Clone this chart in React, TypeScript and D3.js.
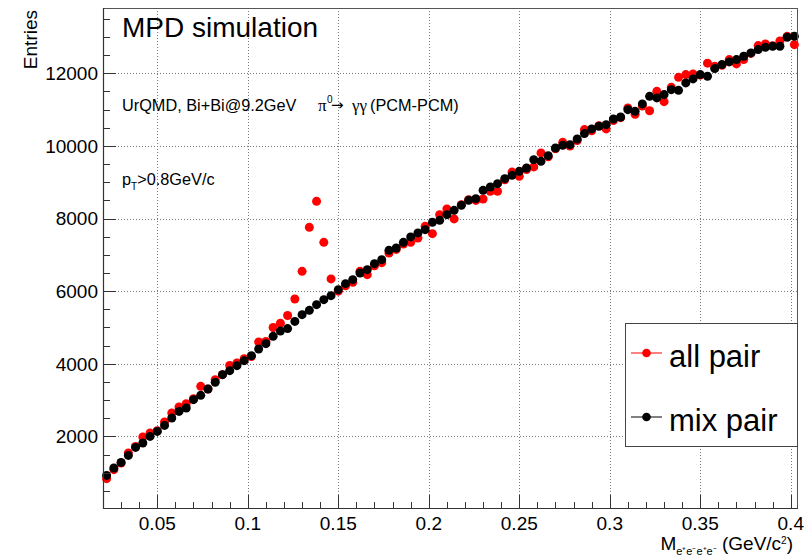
import React from "react";
import * as d3 from "d3";

const W = 808;
const H = 558;

// bin centres: 0.022 .. 0.402, width 0.004
const binStart = 0.02;
const binWidth = 0.004;

const allPair = [
  835, 1083, 1267, 1543, 1725, 1984, 2094, 2157, 2397, 2645,
  2810, 2901, 3039, 3378, 3306, 3562, 3700, 3956, 4022, 4140,
  4200, 4600, 4617, 5000, 5115, 5330, 5785, 6546, 7758, 8474,
  7345, 6337, 6000, 6150, 6243, 6546, 6455, 6700, 6786, 7053,
  7150, 7300, 7345, 7466, 7786, 7585, 8108, 8265, 7990, 8383,
  8520, 8500, 8540, 8750, 8750, 9070, 9280, 9163, 9350, 9422,
  9808, 9700, 9920, 10100, 10000, 10150, 10450, 10420, 10560, 10469,
  10700, 10780, 11047, 10870, 11100, 10970, 11505, 11220, 11615, 11890,
  11965, 11984, 11950, 12280, 12194, 12220, 12378, 12260, 12380, 12550,
  12765, 12811, 12760, 12890, 13020, 12791,
];

const mixPair = [
  926, 1130, 1284, 1477, 1697, 1818, 2000, 2138, 2303, 2507,
  2689, 2782, 3011, 3130, 3306, 3488, 3700, 3810, 3948, 4086,
  4223, 4407, 4554, 4755, 4900, 4970, 5168, 5353, 5472, 5628,
  5766, 5876, 6042, 6207, 6317, 6502, 6593, 6758, 6868, 7124,
  7190, 7345, 7494, 7604, 7695, 7896, 7951, 8108, 8226, 8364,
  8502, 8549, 8777, 8871, 8962, 9100, 9190, 9301, 9394, 9623,
  9577, 9733, 9945, 10017, 10036, 10193, 10340, 10469, 10541, 10587,
  10744, 10799, 11000, 10954, 11158, 11367, 11323, 11414, 11550, 11532,
  11736, 11846, 11965, 11919, 12131, 12241, 12315, 12378, 12470, 12563,
  12654, 12717, 12745, 12745, 12993, 13020,
];

const xTicksMajor = [0.05, 0.1, 0.15, 0.2, 0.25, 0.3, 0.35, 0.4];
const xTickLabels = ["0.05", "0.1", "0.15", "0.2", "0.25", "0.3", "0.35", "0.4"];
const yTicksMajor = [2000, 4000, 6000, 8000, 10000, 12000];
const yTickLabels = ["2000", "4000", "6000", "8000", "10000", "12000"];

const legendLabels = ["all pair", "mix pair"];
const seriesColors = ["#ff0000", "#000000"];

const FONT = "'Liberation Sans', Arial, Helvetica, sans-serif";
const SERIF = "'Liberation Serif', 'DejaVu Serif', serif";

export default function App() {
  const left = 103, right = 798, top = 8, bottom = 509;
  const x = d3.scaleLinear().domain([0.02, 0.404]).range([left, right]);
  const y = d3.scaleLinear().domain([0, 13800]).range([bottom, top]);

  const xMinor = d3.range(0.02, 0.4041, 0.01).map((v) => Math.round(v * 1000) / 1000);
  const yMinor = d3.range(500, 13801, 500);

  const centers = allPair.map((_, i) => binStart + binWidth * (i + 0.5));
  const series = [allPair, mixPair];

  return (
    <svg
      width={W}
      height={H}
      viewBox={`0 0 ${W} ${H}`}
      style={{ position: "absolute", left: 0, top: 0, background: "#fff" }}
      fontFamily={FONT}
    >
      <rect x={0} y={0} width={W} height={H} fill="#fff" />
      {/* grid */}
      <g stroke="#777" strokeWidth={1} strokeDasharray="1,2">
        {xTicksMajor.map((t) => (
          <line key={"gx" + t} x1={Math.round(x(t)) + 0.5} x2={Math.round(x(t)) + 0.5} y1={top} y2={bottom} />
        ))}
        {yTicksMajor.map((t) => (
          <line key={"gy" + t} x1={left} x2={right} y1={Math.round(y(t)) + 0.5} y2={Math.round(y(t)) + 0.5} />
        ))}
      </g>

      {/* data */}
      {series.map((s, si) => (
        <g key={"s" + si} fill={seriesColors[si]}>
          {s.map((v, i) => (
            <circle key={i} cx={x(centers[i])} cy={y(v)} r={4.5} />
          ))}
        </g>
      ))}

      {/* frame */}
      <rect x={left + 0.5} y={top + 0.5} width={right - left - 1} height={bottom - top - 1} fill="none" stroke="#555" strokeWidth={1} />
      <line x1={left + 0.5} x2={left + 0.5} y1={top} y2={bottom} stroke="#333" strokeWidth={1.2} />
      <line x1={left} x2={right} y1={bottom - 0.5} y2={bottom - 0.5} stroke="#333" strokeWidth={1.2} />

      {/* x ticks */}
      <g stroke="#333" strokeWidth={1}>
        {xMinor.map((t) => (
          <line key={"xm" + t} x1={Math.round(x(t)) + 0.5} x2={Math.round(x(t)) + 0.5} y1={bottom} y2={bottom - 7} />
        ))}
        {xTicksMajor.map((t) => (
          <line key={"xM" + t} x1={Math.round(x(t)) + 0.5} x2={Math.round(x(t)) + 0.5} y1={bottom} y2={bottom - 14} />
        ))}
        {yMinor.map((t) => (
          <line key={"ym" + t} x1={left} x2={left + 7} y1={Math.round(y(t)) + 0.5} y2={Math.round(y(t)) + 0.5} />
        ))}
        {yTicksMajor.map((t) => (
          <line key={"yM" + t} x1={left} x2={left + 13} y1={Math.round(y(t)) + 0.5} y2={Math.round(y(t)) + 0.5} />
        ))}
      </g>

      {/* tick labels */}
      <g fontSize={19} fill="#000">
        {xTicksMajor.map((t, i) => (
          <text key={"xl" + t} x={x(t)} y={530} textAnchor="middle">
            {xTickLabels[i]}
          </text>
        ))}
        {yTicksMajor.map((t, i) => (
          <text key={"yl" + t} x={98} y={y(t) + 6.8} textAnchor="end">
            {yTickLabels[i]}
          </text>
        ))}
      </g>

      {/* axis titles */}
      <text transform="translate(37,10) rotate(-90)" textAnchor="end" fontSize={19}>
        Entries
      </text>
      <text x={793} y={549.5} textAnchor="end" fontSize={19}>
        M
        <tspan fontSize={11} dy={5}>e⁺e⁻e⁺e⁻</tspan>
        <tspan dy={-5}> (GeV/c</tspan>
        <tspan fontSize={10} dy={-5.5}>2</tspan>
        <tspan dy={5.5}>)</tspan>
      </text>

      {/* annotations */}
      <text x={122} y={37} fontSize={28}>MPD simulation</text>
      <text x={122} y={111} fontSize={16.3}>UrQMD, Bi+Bi@9.2GeV</text>
      <text x={318} y={111} fontSize={17} fontFamily={SERIF}>π</text>
      <text x={327} y={103} fontSize={10}>0</text>
      <text x={331} y={110} fontSize={15} fontFamily="'DejaVu Sans', sans-serif">→</text>
      <text x={352} y={111} fontSize={17} fontFamily={SERIF}>γγ</text>
      <text x={370} y={111} fontSize={16.3}>(PCM-PCM)</text>
      <text x={122} y={185} fontSize={16.3}>
        p
        <tspan fontSize={10} dy={5}>T</tspan>
        <tspan dy={-5}>&gt;0.8GeV/c</tspan>
      </text>

      {/* legend */}
      <rect x={625.5} y={323.5} width={172} height={123} fill="#fff" stroke="#444" strokeWidth={1} />
      {legendLabels.map((lab, i) => {
        const cy = 353 + i * 64;
        return (
          <g key={"lg" + i}>
            <line x1={631} x2={662} y1={cy} y2={cy} stroke={seriesColors[i]} strokeWidth={1} />
            <circle cx={646.5} cy={cy} r={4.3} fill={seriesColors[i]} />
            <text x={669} y={cy + 13.5} fontSize={31}>{lab}</text>
          </g>
        );
      })}
    </svg>
  );
}
